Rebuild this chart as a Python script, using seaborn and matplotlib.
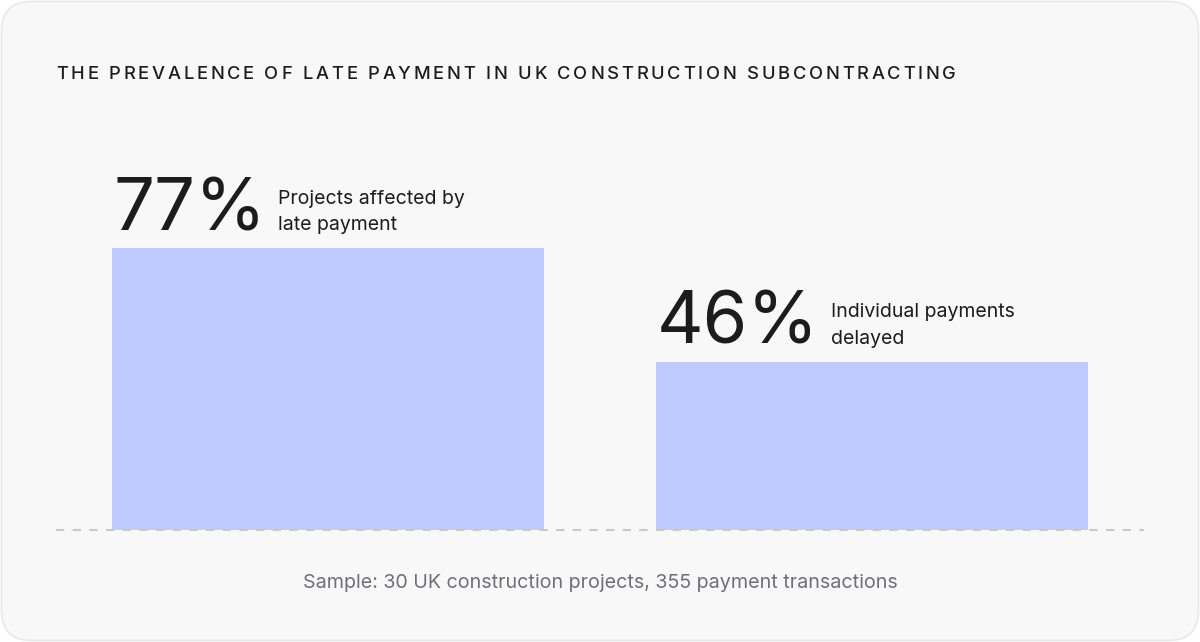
import matplotlib
matplotlib.use("Agg")
import matplotlib.pyplot as plt
from matplotlib.patches import FancyBboxPatch
from matplotlib.font_manager import FontProperties
import seaborn as sns

TITLE = "THE PREVALENCE OF LATE PAYMENT IN UK CONSTRUCTION SUBCONTRACTING"
FOOTNOTE = "Sample: 30 UK construction projects, 355 payment transactions"
CATEGORIES = ["Projects affected by late payment", "Individual payments delayed"]
VALUES = [77, 46]
DESCRIPTIONS = ["Projects affected by\nlate payment", "Individual payments\ndelayed"]

W, H = 1200, 642
BAR_COLOR = "#c1cafe"
CARD_BG = "#f8f8f8"
TEXT_DARK = "#1c1c1c"
BAR_WIDTH = 0.794

sns.set_theme(style="white")
plt.rcParams["font.family"] = ["Inter", "DejaVu Sans"]

fig = plt.figure(figsize=(W / 100, H / 100), dpi=100, facecolor="white")

# rounded card behind everything
card = FancyBboxPatch(
    (1.5 / W, 1.5 / H), (W - 3) / W, (H - 3) / H,
    boxstyle="round,pad=0,rounding_size=0.025",
    transform=fig.transFigure, facecolor=CARD_BG, edgecolor="#e8e8e8",
    linewidth=1.2, mutation_aspect=W / H, zorder=-5,
)
fig.patches.append(card)

ax = fig.add_axes([56 / W, 112 / H, 1088 / W, 366 / H])
ax.set_facecolor("none")
sns.barplot(x=CATEGORIES, y=VALUES, color=BAR_COLOR, saturation=1,
            width=BAR_WIDTH, linewidth=0, ax=ax, zorder=2)
ax.set_xlim(-0.5, 1.5)
ax.set_ylim(0, 100)
ax.axhline(0, color="#c9c9c9", linewidth=1.5, linestyle=(0, (4, 4)),
           clip_on=False, zorder=3)
for s in ax.spines.values():
    s.set_visible(False)
ax.set_xticks([])
ax.set_yticks([])
ax.set_xlabel("")
ax.set_ylabel("")

for i, (val, desc) in enumerate(zip(VALUES, DESCRIPTIONS)):
    num = ax.annotate(
        f"{val}%", xy=(i - BAR_WIDTH / 2, val), xytext=(1, 18),
        textcoords="offset pixels", ha="left", va="baseline",
        fontsize=52, color=TEXT_DARK,
    )
    ax.annotate(
        desc, xy=(1.0, val), xycoords=(num, ax.transData),
        xytext=(12, 18), textcoords="offset pixels",
        ha="left", va="baseline", fontsize=14, color=TEXT_DARK,
        linespacing=1.6,
    )

# letter-spaced title, drawn char by char
fig.canvas.draw()
renderer = fig.canvas.get_renderer()
tprop = FontProperties(family=["Inter", "DejaVu Sans"], size=13.2, weight="medium")


def text_width(s):
    return renderer.get_text_width_height_descent(s, tprop, ismath=False)[0]


space_w = text_width("A A") - text_width("AA")
advances = [space_w if c == " " else text_width(c) for c in TITLE]
target = 900
tracking = (target - sum(advances)) / (len(TITLE) - 1)
x = 56
for c, adv in zip(TITLE, advances):
    if c != " ":
        fig.text(x / W, (H - 79) / H, c, fontproperties=tprop,
                 color=TEXT_DARK, ha="left", va="baseline")
    x += adv + tracking

fig.text(0.5, (H - 588) / H, FOOTNOTE, ha="center", va="baseline",
         fontsize=14.2, color="#6f6f7a")

fig.savefig("out.png", dpi=100, facecolor="white")
